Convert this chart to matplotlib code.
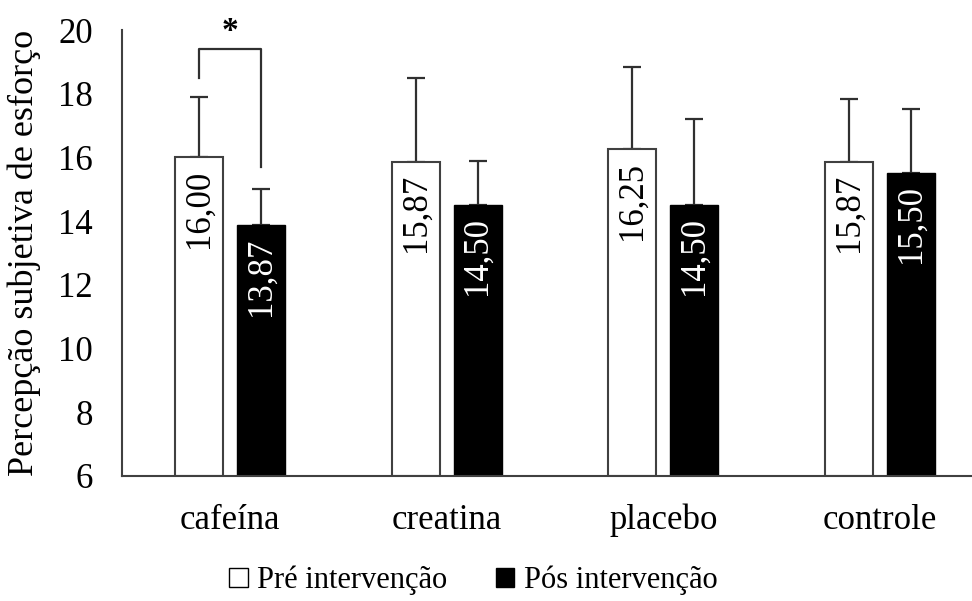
import matplotlib
matplotlib.use("Agg")
import matplotlib.pyplot as plt
import numpy as np
from matplotlib.patches import Patch

categories = ["cafeína", "creatina", "placebo", "controle"]
pre_values = [16.00, 15.87, 16.25, 15.87]
pos_values = [13.87, 14.50, 14.50, 15.50]
pre_sd = [1.90, 2.62, 2.58, 1.96]
pos_sd = [1.13, 1.39, 2.72, 2.02]
series_names = ["Pré intervenção", "Pós intervenção"]
y_ticks = [6, 8, 10, 12, 14, 16, 18, 20]

plt.rcParams['font.family'] = ['Liberation Serif', 'DejaVu Serif']

fig = plt.figure(figsize=(9.72, 6.01), dpi=100)
ax = fig.add_axes([0.1255, 0.208, 0.8910, 0.742])

x = np.arange(len(categories))
w = 0.222
off = 0.143
edge = '#404040'
fs = 25
ax.bar(x - off, np.array(pre_values) - 6, w, bottom=6, color='white', edgecolor=edge, linewidth=1.5, zorder=2)
ax.bar(x + off, np.array(pos_values) - 6, w, bottom=6, color='black', edgecolor='black', linewidth=1.0, zorder=2)
ax.errorbar(x - off, pre_values, yerr=[np.zeros(4), pre_sd], fmt='none', ecolor='#303030', elinewidth=1.6, capsize=6.5, capthick=1.6, zorder=1)
ax.errorbar(x + off, pos_values, yerr=[np.zeros(4), pos_sd], fmt='none', ecolor='#303030', elinewidth=1.6, capsize=6.5, capthick=1.6, zorder=1)

for i in range(len(categories)):
    ax.text(x[i] - off, pre_values[i] - 0.38, f"{pre_values[i]:.2f}".replace('.', ','), rotation=90,
            ha='center', va='top', color='black', fontsize=fs, zorder=3)
    ax.text(x[i] + off, pos_values[i] - 0.38, f"{pos_values[i]:.2f}".replace('.', ','), rotation=90,
            ha='center', va='top', color='white', fontsize=fs, zorder=3)

# significance bracket
top = 19.4
ax.plot([x[0] - off, x[0] - off, x[0] + off, x[0] + off],
        [pre_values[0] + pre_sd[0] + 0.6, top, top, pos_values[0] + pos_sd[0] + 0.7],
        color='#303030', lw=1.6, clip_on=False)
ax.text(x[0], top + 0.55, "*", ha='center', va='center', fontsize=24, color='black', fontweight='bold')

ax.set_xlim(-0.5, 3.5)
ax.set_ylim(6, 20)
ax.set_yticks(y_ticks)
ax.set_yticklabels([str(t) for t in y_ticks], fontsize=fs)
ax.set_xticks(x)
ax.set_xticklabels(categories, fontsize=fs)
ax.tick_params(axis='y', length=0, pad=21)
ax.tick_params(axis='x', length=0, pad=20)
for s in ['top', 'right']:
    ax.spines[s].set_visible(False)
for s in ['left', 'bottom']:
    ax.spines[s].set_color(edge)
    ax.spines[s].set_linewidth(1.5)
ax.set_ylabel("Percepção subjetiva de esforço", fontsize=26, labelpad=12)

handles = [Patch(facecolor='white', edgecolor='black', linewidth=1.0),
           Patch(facecolor='black', edgecolor='black')]
fig.legend(handles, series_names, loc='center', bbox_to_anchor=(0.487, 0.034), ncol=2, frameon=False,
           fontsize=22, handlelength=0.6, handleheight=0.6, handletextpad=0.3, columnspacing=1.6)

fig.savefig("out.png", dpi=100)
